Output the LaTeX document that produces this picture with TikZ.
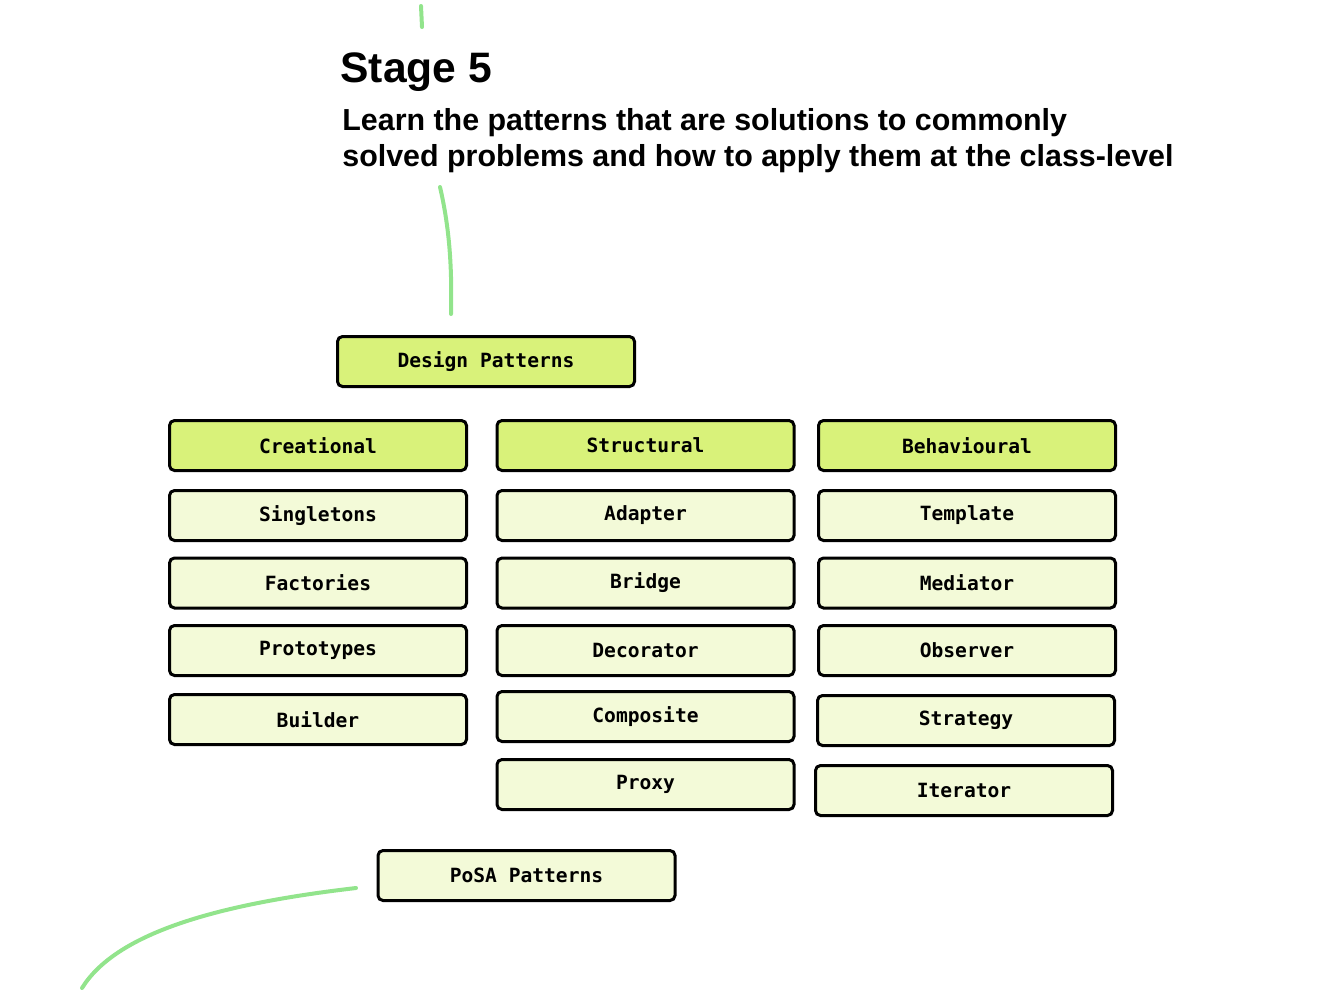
\documentclass[tikz,border=0pt]{standalone}
\usepackage{fontspec}
\setmainfont{Liberation Sans}
\setmonofont{DejaVu Sans Mono}
\usepackage{xcolor}
\usetikzlibrary{positioning}

\definecolor{headfill}{RGB}{217,242,122}
\definecolor{itemfill}{RGB}{243,250,216}
\definecolor{pathgreen}{RGB}{146,228,140}

\tikzset{
  itembox/.style={draw=black, line width=1.5pt, rounded corners=2.5pt, fill=itemfill,
    minimum width=148.5pt, minimum height=25pt, inner sep=0pt,
    font=\ttfamily\bfseries\fontsize{9.8}{12}\selectfont},
  headbox/.style={itembox, fill=headfill},
  trail/.style={pathgreen, line width=2pt, line cap=round}
}

\begin{document}
\begin{tikzpicture}[x=0.5pt, y=-0.5pt]
        \useasboundingbox (0,0) rectangle (1344,992);

        % Heading
        \node[anchor=base west, inner sep=0pt, font=\bfseries\fontsize{21.3}{26}\selectfont] (stage) at (340,82) {Stage 5};
        \node[anchor=base west, inner sep=0pt, font=\bfseries\fontsize{15.2}{18}\selectfont] (sub1) at (342,130) {Learn the patterns that are solutions to commonly};
        \node[anchor=base west, inner sep=0pt, font=\bfseries\fontsize{15.2}{18}\selectfont] (sub2) at (342,166) {solved problems and how to apply them at the class-level};

        % Top node
        \node[headbox] (dp) at (486,361.5) {Design Patterns};

        % Column headers
        \node[headbox] (cre) at (318,445.5) {Creational};
        \node[headbox] (str) at (645.5,445.5) {Structural};
        \node[headbox] (beh) at (967,445.5) {Behavioural};

        % Creational
        \foreach \lbl/\yy [count=\i] in {Singletons/515.5, Factories/583, Prototypes/650.5, Builder/719.5}
            \node[itembox] (cre\i) at (318,\yy) {\lbl};

        % Structural
        \foreach \lbl/\yy [count=\i] in {Adapter/515.5, Bridge/583, Decorator/650.5, Composite/716.5, Proxy/784.5}
            \node[itembox] (str\i) at (645.5,\yy) {\lbl};

        % Behavioural
        \foreach \lbl/\xx/\yy [count=\i] in {Template/967/515.5, Mediator/967/583, Observer/967/650.5, Strategy/966/720.5, Iterator/964/790.5}
            \node[itembox] (beh\i) at (\xx,\yy) {\lbl};

        % Next node
        \node[itembox] (posa) at (526.5,875.5) {PoSA Patterns};

        % Green trail
        \coordinate (in1) at (421,6);
        \coordinate (in2) at (422,27);
        \coordinate (dpin) at (451,314);
        \coordinate (subout) at (440,187);
        \coordinate (posaout) at (356,888);
        \coordinate (exit) at (82,988);
        \draw[trail] (in1) -- (in2);
        \draw[trail] (subout) .. controls (450,230) and (452,270) .. (dpin);
        \draw[trail] (posaout) .. controls (210,905) and (115,935) .. (exit);
    \end{tikzpicture}
\end{document}
